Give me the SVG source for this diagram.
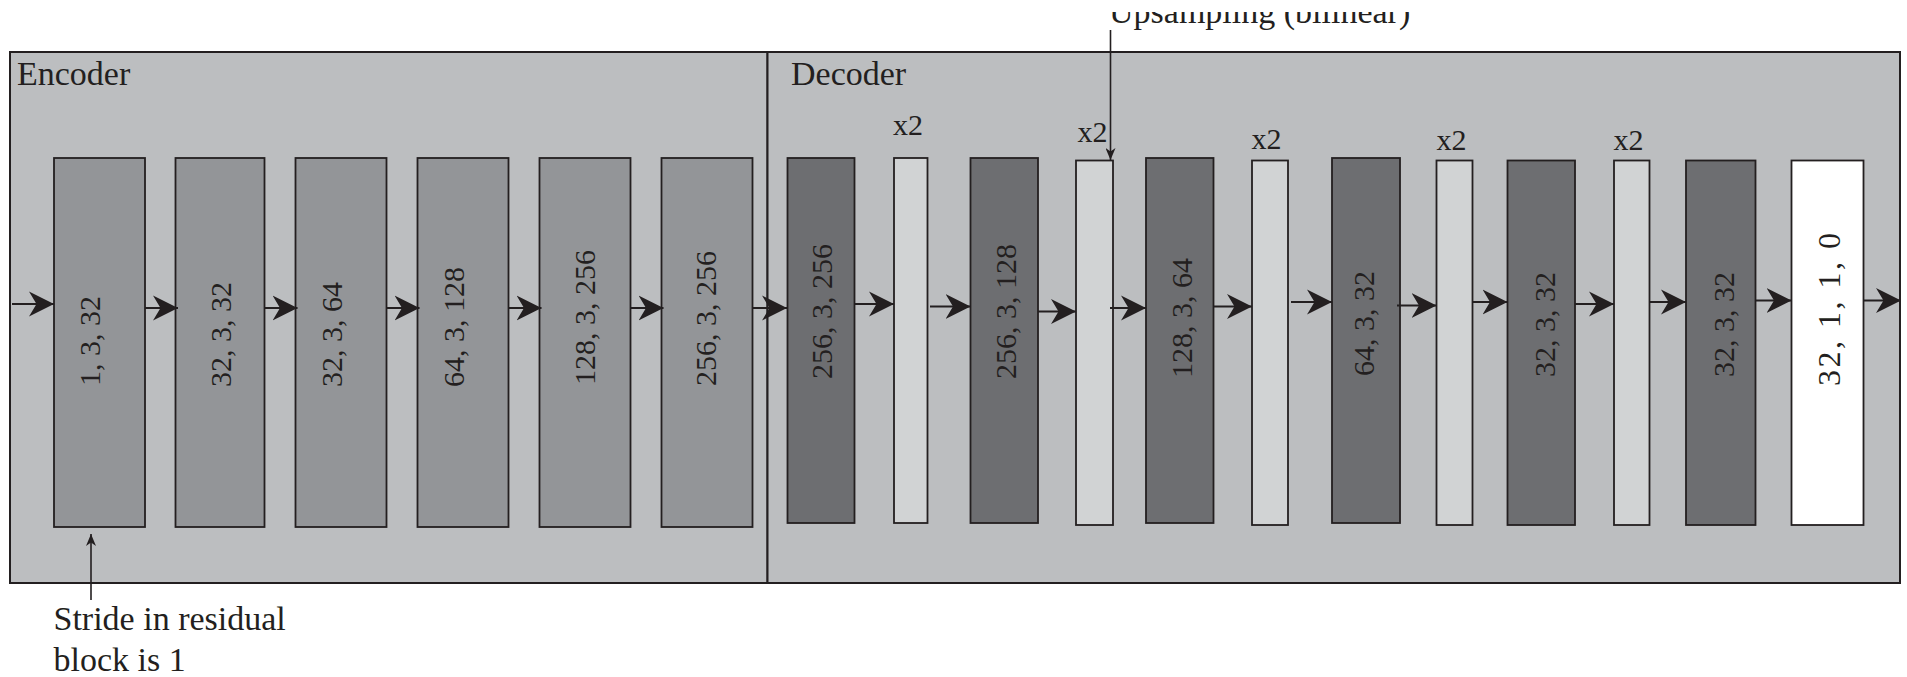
<svg xmlns="http://www.w3.org/2000/svg" width="1907" height="677" viewBox="0 0 1907 677">
<style>
.panel{fill:#bcbec0;stroke:#231f20;stroke-width:2}
.enc{fill:#939598;stroke:#231f20;stroke-width:1.8}
.dark{fill:#6d6e71;stroke:#231f20;stroke-width:1.8}
.light{fill:#d1d3d4;stroke:#231f20;stroke-width:1.8}
.white{fill:#ffffff;stroke:#231f20;stroke-width:1.8}
text{font-family:"Liberation Serif","Times New Roman",serif;fill:#231f20}
.lbl{font-size:34px}
.num{font-size:30px}
.x2{font-size:30px}
.conn line{stroke:#231f20;stroke-width:2;fill:none}
.conn .big{marker-end:url(#ah)}
.conn .small{stroke-width:1.6;marker-end:url(#ahs)}
</style>
<defs>
<marker id="ah" markerUnits="userSpaceOnUse" markerWidth="26" markerHeight="26" viewBox="0 0 26 26" refX="25" refY="13" orient="auto">
<path d="M25,13 L0,0.5 L7.5,13 L0,25.5 Z" fill="#231f20"/>
</marker>
<marker id="ahs" markerUnits="userSpaceOnUse" markerWidth="12" markerHeight="10" viewBox="0 0 12 10" refX="12" refY="5" orient="auto">
<path d="M12,5 L0,0 L3.5,5 L0,10 Z" fill="#231f20"/>
</marker>
<clipPath id="topclip"><rect x="1000" y="12" width="500" height="40"/></clipPath>
</defs>

<g id="encoder-panel">
<rect class="panel" x="10" y="52" width="757.5" height="531"/>
<text class="lbl" x="17" y="85">Encoder</text>
</g>
<g id="decoder-panel">
<rect class="panel" x="767.5" y="52" width="1132.5" height="531"/>
<text class="lbl" x="791" y="85">Decoder</text>
</g>

<g id="e1"><rect class="enc" x="54" y="158" width="91" height="369"/><text class="num" transform="translate(99.5,386) rotate(-90)">1, 3, 32</text></g>
<g id="e2"><rect class="enc" x="175.5" y="158" width="89" height="369"/><text class="num" transform="translate(231,387) rotate(-90)">32, 3, 32</text></g>
<g id="e3"><rect class="enc" x="295.5" y="158" width="91" height="369"/><text class="num" transform="translate(342,387) rotate(-90)">32, 3, 64</text></g>
<g id="e4"><rect class="enc" x="417.5" y="158" width="91" height="369"/><text class="num" transform="translate(464,387) rotate(-90)">64, 3, 128</text></g>
<g id="e5"><rect class="enc" x="539.5" y="158" width="91" height="369"/><text class="num" transform="translate(595,385) rotate(-90)">128, 3, 256</text></g>
<g id="e6"><rect class="enc" x="661.5" y="158" width="91" height="369"/><text class="num" transform="translate(716,386) rotate(-90)">256, 3, 256</text></g>

<g id="d1"><rect class="dark" x="787.5" y="158" width="67" height="365"/><text class="num" transform="translate(832,379) rotate(-90)">256, 3, 256</text></g>
<g id="u1"><rect class="light" x="894" y="158" width="33.5" height="365"/><text class="x2" x="893" y="135">x2</text></g>
<g id="d2"><rect class="dark" x="970.5" y="158" width="67.5" height="365"/><text class="num" transform="translate(1016,379) rotate(-90)">256, 3, 128</text></g>
<g id="u2"><rect class="light" x="1076" y="160.5" width="37" height="364.5"/><text class="x2" x="1077.5" y="141.7">x2</text></g>
<g id="d3"><rect class="dark" x="1146" y="158" width="67.5" height="365"/><text class="num" transform="translate(1192,378) rotate(-90)">128, 3, 64</text></g>
<g id="u3"><rect class="light" x="1252" y="160.5" width="36" height="364.5"/><text class="x2" x="1251.5" y="149">x2</text></g>
<g id="d4"><rect class="dark" x="1332" y="158" width="68" height="365"/><text class="num" transform="translate(1373.5,376) rotate(-90)">64, 3, 32</text></g>
<g id="u4"><rect class="light" x="1436.5" y="160.5" width="36" height="364.5"/><text class="x2" x="1436.5" y="150">x2</text></g>
<g id="d5"><rect class="dark" x="1507.5" y="160.5" width="67.5" height="364.5"/><text class="num" transform="translate(1555,377) rotate(-90)">32, 3, 32</text></g>
<g id="u5"><rect class="light" x="1614" y="160.5" width="35.5" height="364.5"/><text class="x2" x="1613.5" y="150">x2</text></g>
<g id="d6"><rect class="dark" x="1686" y="160.5" width="69.5" height="364.5"/><text class="num" transform="translate(1734,377) rotate(-90)">32, 3, 32</text></g>
<g id="w1"><rect class="white" x="1791.5" y="160.5" width="72" height="364.5"/><text class="num" style="font-size:32px" transform="translate(1840,386) rotate(-90)" textLength="153" lengthAdjust="spacing">32, 1, 1, 0</text></g>

<g id="note-upsampling">
<text class="lbl" x="1109" y="22.5" clip-path="url(#topclip)">Upsampling (bilinear)</text>
</g>
<g id="note-stride">
<text class="lbl" x="53.5" y="630">Stride in residual</text>
<text class="lbl" x="53.5" y="670.5">block is 1</text>
</g>

<g id="connectors" class="conn">
<line class="big" x1="12" y1="304" x2="54" y2="304"/>
<line class="big" x1="145" y1="308" x2="178" y2="308"/>
<line class="big" x1="264.5" y1="308" x2="297.5" y2="308"/>
<line class="big" x1="386.5" y1="308" x2="419.5" y2="308"/>
<line class="big" x1="508.5" y1="308" x2="541.5" y2="308"/>
<line class="big" x1="630.5" y1="308" x2="663.5" y2="308"/>
<line class="big" x1="752.5" y1="308" x2="787" y2="308"/>
<line class="big" x1="854.5" y1="304" x2="894" y2="304"/>
<line class="big" x1="930" y1="306.5" x2="970.5" y2="306.5"/>
<line class="big" x1="1038" y1="311.5" x2="1076" y2="311.5"/>
<line class="big" x1="1110" y1="308" x2="1146" y2="308"/>
<line class="big" x1="1213.5" y1="306.5" x2="1252" y2="306.5"/>
<line class="big" x1="1291" y1="302" x2="1332" y2="302"/>
<line class="big" x1="1397" y1="305.5" x2="1436.5" y2="305.5"/>
<line class="big" x1="1472.5" y1="302" x2="1507.5" y2="302"/>
<line class="big" x1="1575" y1="304" x2="1614" y2="304"/>
<line class="big" x1="1649.5" y1="302" x2="1686" y2="302"/>
<line class="big" x1="1755.5" y1="300.5" x2="1791.5" y2="300.5"/>
<line class="big" x1="1863.5" y1="300.5" x2="1901" y2="300.5"/>
<line class="small" x1="1110.5" y1="30" x2="1110.5" y2="160"/>
<line class="small" x1="91" y1="600" x2="91" y2="534"/>
</g>
</svg>
